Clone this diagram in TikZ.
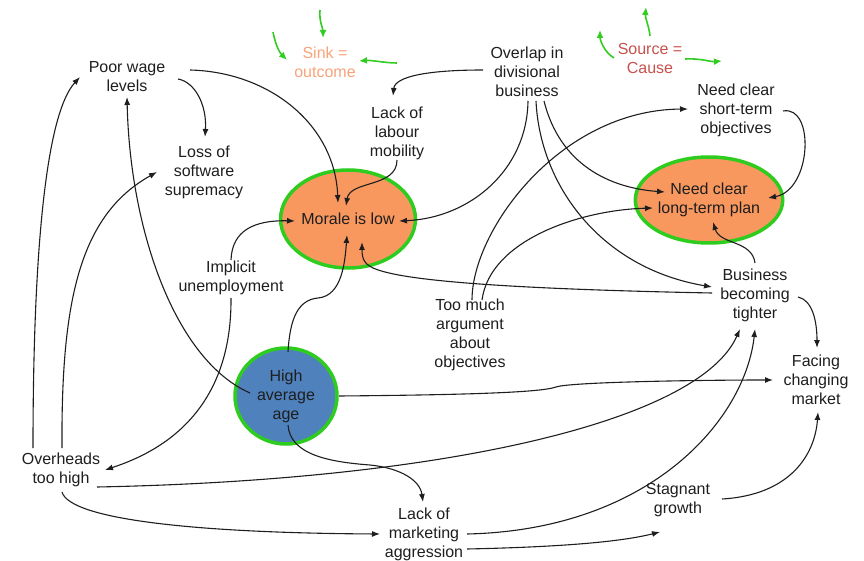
\documentclass[tikz,border=0pt]{standalone}
\usepackage{fontspec}
\setmainfont{Liberation Sans}
\usetikzlibrary{arrows.meta,calc,shapes.geometric}

\definecolor{ink}{HTML}{1E1E1E}
\definecolor{ringgreen}{HTML}{2ECC1E}
\definecolor{warmfill}{HTML}{F8985F}
\definecolor{coolfill}{HTML}{4F81BD}
\definecolor{sinktext}{HTML}{F9A27A}
\definecolor{sourcetext}{HTML}{C8504D}
\definecolor{hintgreen}{HTML}{33CC22}

\tikzset{
  lbl/.style={align=center, font=\fontsize{16}{19}\selectfont, text=ink, inner sep=1pt},
  bubble/.style={lbl, ellipse, draw=ringgreen, line width=3.5pt},
  conn/.style={draw=ink, line width=1.1pt, -{Latex[length=8pt,width=6pt]}},
  hint/.style={draw=hintgreen, line width=1.6pt, -{Latex[length=8pt,width=7pt]}}
}

\begin{document}
\begin{tikzpicture}[x=1pt,y=-1pt]
\useasboundingbox (0,0) rectangle (864,561);

% legend labels
\node[lbl, text=sinktext]   (sink)   at (325,62) {Sink =\\outcome};
\node[lbl, text=sourcetext] (source) at (650,58) {Source =\\Cause};

% plain factors
\node[lbl] (pwl) at (127,77)  {Poor wage\\levels};
\node[lbl] (lss) at (204,172) {Loss of\\software\\supremacy};
\node[lbl] (odb) at (527,72)  {Overlap in\\divisional\\business};
\node[lbl] (llm) at (397,133) {Lack of\\labour\\mobility};
\node[lbl] (nst) at (736,110) {Need clear\\short-term\\objectives};
\node[lbl] (iu)  at (231,278) {Implicit\\unemployment};
\node[lbl] (tma) at (470,335) {Too much\\argument\\about\\objectives};
\node[lbl] (bbt) at (755,295) {Business\\becoming\\tighter};
\node[lbl] (fcm) at (816,380) {Facing\\changing\\market};
\node[lbl] (oth) at (61,470)  {Overheads\\too high};
\node[lbl] (lma) at (424,534) {Lack of\\marketing\\aggression};
\node[lbl] (sg)  at (678,500) {Stagnant\\growth};

% highlighted factors
\node[bubble, fill=warmfill, minimum width=130, minimum height=98] (mil) at (348,219) {Morale is low};
\node[bubble, fill=warmfill, minimum width=132, minimum height=86] (nlp) at (709,200) {Need clear\\long-term plan};
\node[bubble, fill=coolfill, minimum width=102, minimum height=96] (haa) at (286,396) {High\\average\\age};

% legend arrows
\draw[hint] ($(sink)+(-52,-30)$) .. controls (276,47) and (280,53) .. ($(sink)+(-38,-2)$);
\draw[hint] ($(sink)+(-5,-52)$) .. controls (319,22) and (323,28) .. ($(sink)+(-2,-24)$);
\draw[hint] ($(sink)+(72,1)$) .. controls (385,63) and (372,60) .. ($(sink)+(34,-1)$);
\draw[hint] ($(source)+(-36,0)$) .. controls (604,52) and (600,40) .. ($(source)+(-50,-28)$);
\draw[hint] ($(source)+(0,-22)$) .. controls (649,26) and (645,18) .. ($(source)+(-4,-51)$);
\draw[hint] ($(source)+(35,1)$) .. controls (700,58) and (710,62) .. ($(source)+(72,3)$);

% causal links
\draw[conn] ($(pwl)+(51,2)$) .. controls (195,82) and (207,105) .. ($(lss)+(1,-35)$);
\draw[conn] ($(pwl)+(63,-7)$) .. controls (270,72) and (335,125) .. ($(mil)+(-10,-16)$);
\draw[conn] ($(llm)+(0,27)$) .. controls (397,188) and (350,180) .. ($(mil)+(-2,-13)$);
\draw[conn] ($(odb)+(-44,-2)$) .. controls (430,70) and (395,76) .. ($(llm)+(-4,-37)$);
\draw[conn] ($(odb)+(1,29)$) .. controls (527,170) and (470,218) .. ($(mil)+(51,2)$);
\draw[conn] ($(odb)+(9,29)$) .. controls (540,185) and (600,268) .. ($(bbt)+(-43,-8)$);
\draw[conn] ($(odb)+(17,29)$) .. controls (560,165) and (610,188) .. ($(nlp)+(-44,-8)$);
\draw[conn] ($(tma)+(2,-35)$) .. controls (472,230) and (560,110) .. ($(nst)+(-48,-1)$);
\draw[conn] ($(tma)+(12,-35)$) .. controls (490,240) and (580,210) .. ($(nlp)+(-56,8)$);
\draw[conn] ($(nst)+(47,1)$) .. controls (815,105) and (812,190) .. ($(nlp)+(59,-2)$);
\draw[conn] ($(bbt)+(0,-32)$) .. controls (752,240) and (720,245) .. ($(nlp)+(4,22)$);
\draw[conn] ($(bbt)+(-43,-2)$) .. controls (560,290) and (430,284) .. (385,272)
                               .. controls (366,267) and (362,262) .. ($(mil)+(14,23)$);
\draw[conn] ($(bbt)+(43,2)$) .. controls (812,300) and (817,320) .. ($(fcm)+(1,-32)$);
\draw[conn] ($(haa)+(2,-44)$) .. controls (290,318) and (298,300) .. (318,298)
                              .. controls (342,296) and (345,262) .. ($(mil)+(-1,16)$);
\draw[conn] ($(haa)+(-36,-3)$) .. controls (175,360) and (130,230) .. ($(pwl)+(0,20)$);
\draw[conn] ($(haa)+(53,0)$) .. controls (450,395) and (540,393) .. (556,387)
                             .. controls (570,382) and (700,380) .. ($(fcm)+(-43,0)$);
\draw[conn] ($(haa)+(2,29)$) .. controls (290,455) and (330,462) .. (370,465)
                             .. controls (400,468) and (420,480) .. ($(lma)+(-1,-32)$);
\draw[conn] ($(iu)+(0,-18)$) .. controls (232,230) and (255,220) .. ($(mil)+(-53,2)$);
\draw[conn] ($(iu)+(0,20)$) .. controls (232,420) and (150,455) .. ($(oth)+(44,0)$);
\draw[conn] ($(oth)+(-28,-22)$) .. controls (33,260) and (45,115) .. ($(pwl)+(-47,0)$);
\draw[conn] ($(oth)+(1,-22)$) .. controls (61,300) and (80,215) .. ($(lss)+(-47,0)$);
\draw[conn] ($(oth)+(36,17)$) .. controls (450,480) and (700,420) .. ($(bbt)+(-15,34)$);
\draw[conn] ($(oth)+(1,22)$) .. controls (70,520) and (200,533) .. ($(lma)+(-44,0)$);
\draw[conn] ($(lma)+(43,0)$) .. controls (650,530) and (745,420) .. ($(bbt)+(0,34)$);
\draw[conn] ($(lma)+(43,15)$) .. controls (560,547) and (620,542) .. ($(sg)+(-18,32)$);
\draw[conn] ($(sg)+(44,-1)$) .. controls (790,495) and (815,455) .. ($(fcm)+(2,32)$);
\end{tikzpicture}
\end{document}
